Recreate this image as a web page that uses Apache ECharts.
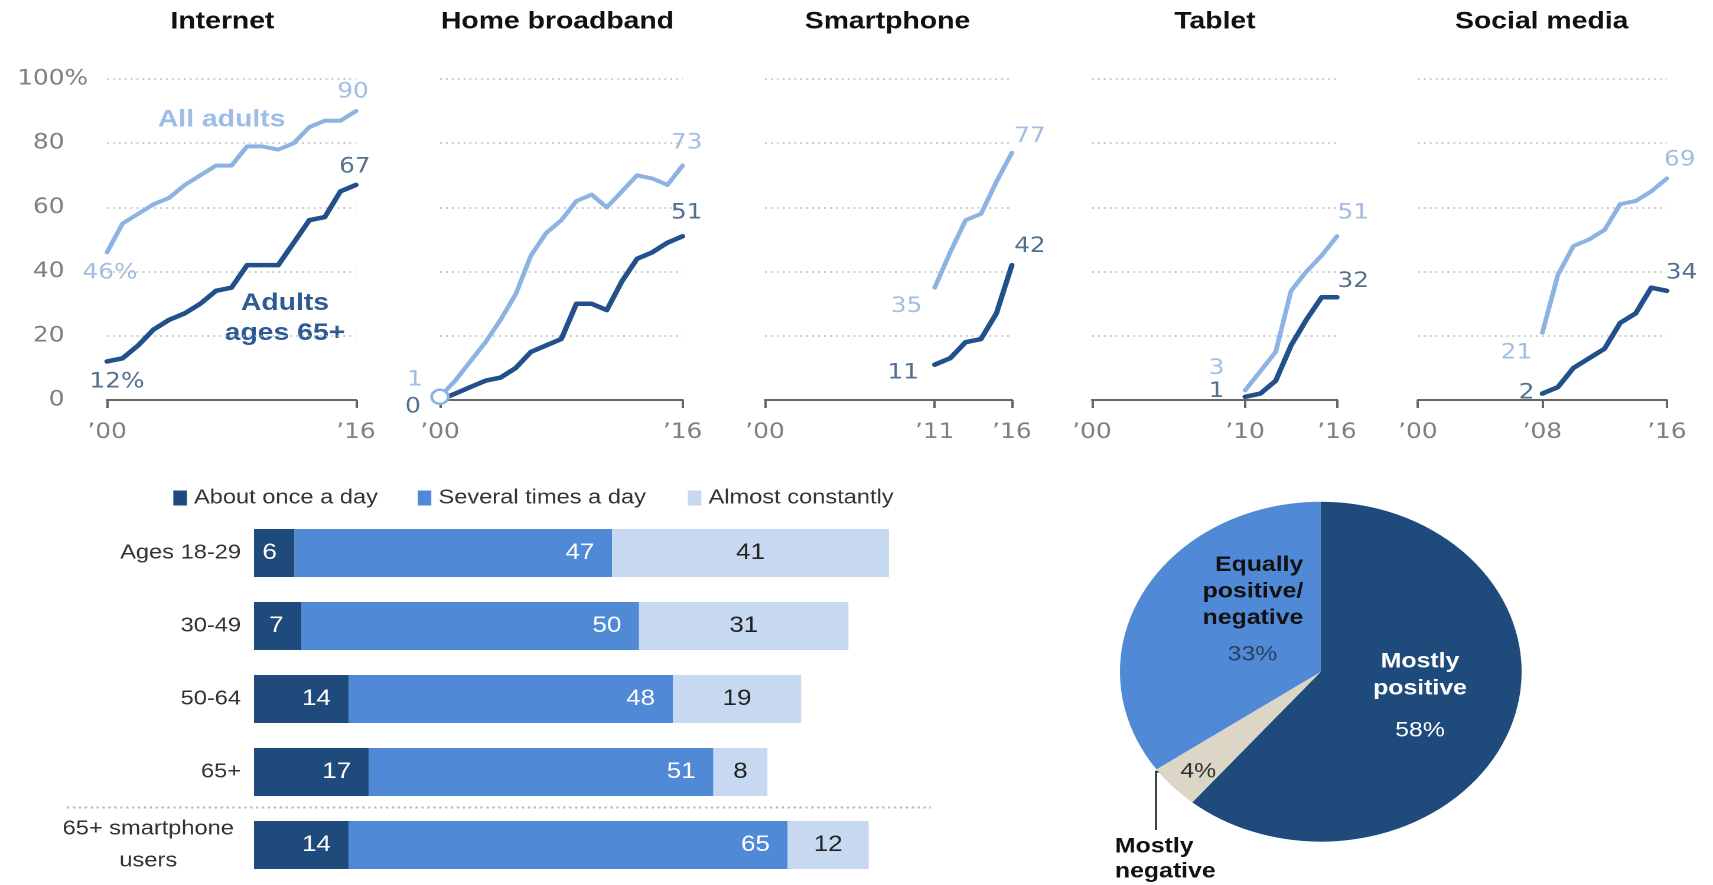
<!DOCTYPE html>
<html>
<head>
<meta charset="utf-8">
<title>Technology adoption and use among older adults</title>
<script src="https://cdn.jsdelivr.net/npm/echarts@6/dist/echarts.min.js"></script>
<style>
  html, body { margin: 0; padding: 0; background: #fff; overflow: hidden; }
  /* the whole figure is laid out on a 1450px-wide stage and widened to the window */
  #stage { position: absolute; left: 0; top: 0; width: 1450px; height: 885px;
           transform: scaleX(1.18138); transform-origin: 0 0; }
</style>
</head>
<body>
<div id="stage"></div>
<script>
// ---------- trend panels: % of U.S. adults, 2000-2016 ----------
const years = ['2000','2001','2002','2003','2004','2005','2006','2007','2008',
               '2009','2010','2011','2012','2013','2014','2015','2016'];
const panelTitles = ['Internet', 'Home broadband', 'Smartphone', 'Tablet', 'Social media'];
const panelTickYears = [
  ['2000', '2016'], ['2000', '2016'], ['2000', '2011', '2016'],
  ['2000', '2010', '2016'], ['2000', '2008', '2016']
];
const yTickValues = [0, 20, 40, 60, 80, 100];

const internetAll   = [46, 55, 58, 61, 63, 67, 70, 73, 73, 79, 79, 78, 80, 85, 87, 87, 90];
const internet65    = [12, 13, 17, 22, 25, 27, 30, 34, 35, 42, 42, 42, 49, 56, 57, 65, 67];
const broadbandAll  = [1, 6, 12, 18, 25, 33, 45, 52, 56, 62, 64, 60, 65, 70, 69, 67, 73];
const broadband65   = [0, 2, 4, 6, 7, 10, 15, 17, 19, 30, 30, 28, 37, 44, 46, 49, 51];
const smartphoneAll = [null, null, null, null, null, null, null, null, null, null, null, 35, 46, 56, 58, 68, 77];
const smartphone65  = [null, null, null, null, null, null, null, null, null, null, null, 11, 13, 18, 19, 27, 42];
const tabletAll     = [null, null, null, null, null, null, null, null, null, null, 3, 9, 15, 34, 40, 45, 51];
const tablet65      = [null, null, null, null, null, null, null, null, null, null, 1, 2, 6, 17, 25, 32, 32];
const socialAll     = [null, null, null, null, null, null, null, null, 21, 39, 48, 50, 53, 61, 62, 65, 69];
const social65      = [null, null, null, null, null, null, null, null, 2, 4, 10, 13, 16, 24, 27, 35, 34];

// ---------- how often smartphone owners go online ----------
const ageGroups = ['Ages 18-29', '30-49', '50-64', '65+', '65+ smartphone users'];
const onceADay        = [6, 7, 14, 17, 14];
const severalTimesDay = [47, 50, 48, 51, 65];
const almostConstant  = [41, 31, 19, 8, 12];
const frequencyNames  = ['About once a day', 'Several times a day', 'Almost constantly'];

// ---------- effect of online life on society ----------
const attitudeNames  = ['Mostly positive', 'Mostly negative', 'Equally positive/negative'];
const attitudeShares = [58, 4, 33];

// ---------- styling ----------
const LIGHT_LINE = '#8db3e2';
const DARK_LINE = '#21508b';
const LIGHT_TEXT = '#a4bee1';
const DARK_TEXT = '#56708f';
const AXIS_GRAY = '#666666';
const TICK_TEXT = '#808080';
const NAVY = '#1f4a7c';
const MID_BLUE = '#5089d5';
const PALE_BLUE = '#c6d9f0';
const BEIGE = '#dbd6c5';
const NUM_FONT = 'DejaVu Sans';
const TEXT_FONT = 'Liberation Sans';

const panelLeft  = [90.6, 372.4, 647.5, 924.3, 1200.2];
const panelWidth = [210.7, 205.4, 209.0, 207.4, 210.7];
const panelTitleX = [188.3, 471.9, 751.2, 1028.4, 1305.0];
const plotTop = 79, plotHeight = 321;

// label offsets from the first / last point of each line
const endLabelOffsets = [
  { allFirst: [2.5, 20.7],   oldFirst: [8.4, 20.5],   allLast: [-2.5, -19], oldLast: [-1, -18] },
  { allFirst: [-21.2, -16.8], oldFirst: [-22.8, 7],   allLast: [3.4, -22.4], oldLast: [3.4, -23] },
  { allFirst: [-23.8, 19],   oldFirst: [-26.7, 8.6],  allLast: [15.3, -16.1], oldLast: [15.3, -18.5] },
  { allFirst: [-24.1, -22],  oldFirst: [-24.1, -5.1], allLast: [13.8, -23], oldLast: [13.8, -15.6] },
  { allFirst: [-21.9, 20.7], oldFirst: [-13.4, -0.3], allLast: [11, -18.5], oldLast: [12.4, -17.6] }
];

const panelSeries = [
  [internetAll, internet65], [broadbandAll, broadband65], [smartphoneAll, smartphone65],
  [tabletAll, tablet65], [socialAll, social65]
];

function lineData(values, firstOff, lastOff, textColor, percentFirst, ringFirst, ringColor) {
  const first = values.findIndex(v => v !== null);
  const last = values.length - 1;
  return values.map((v, i) => {
    if (i !== first && i !== last) return v;
    const item = {
      value: v,
      label: {
        show: true, position: 'inside',
        offset: i === first ? firstOff : lastOff,
        color: textColor, fontFamily: NUM_FONT, fontSize: 21,
        formatter: (i === first && percentFirst) ? '{c}%' : '{c}'
      }
    };
    if (i === first && ringFirst) {
      item.symbolSize = 14;
      item.itemStyle = { color: '#ffffff', borderColor: ringColor, borderWidth: 2.5 };
    }
    return item;
  });
}

const grids = [], xAxes = [], yAxes = [], series = [];

panelTitles.forEach((title, p) => {
  grids.push({ left: panelLeft[p], top: plotTop, width: panelWidth[p], height: plotHeight });
  const ticks = panelTickYears[p];
  const showAt = (idx) => ticks.indexOf(years[idx]) !== -1;
  xAxes.push({
    type: 'category', gridIndex: p, data: years, boundaryGap: false,
    axisLine: { show: true, lineStyle: { color: AXIS_GRAY, width: 2 } },
    axisTick: { show: true, length: 8, interval: showAt, lineStyle: { color: AXIS_GRAY, width: 2 } },
    axisLabel: {
      interval: showAt, margin: 22, color: TICK_TEXT, fontFamily: NUM_FONT, fontSize: 21,
      formatter: (y) => '\u2019' + y.slice(2)
    },
    splitLine: { show: false }
  });
  yAxes.push({
    type: 'value', gridIndex: p, min: yTickValues[0], max: yTickValues[yTickValues.length - 1],
    interval: yTickValues[1] - yTickValues[0],
    axisLine: { show: false }, axisTick: { show: false },
    splitLine: { show: true, lineStyle: { color: '#bdbdbd', width: 1.6, type: [1.6, 3.4] } },
    axisLabel: p === 0 ? {
      show: true, margin: 16,
      formatter: (v) => v === 100 ? '{n|100%}' : '{n|' + v + '}{h|%}',
      rich: {
        n: { color: TICK_TEXT, fontFamily: NUM_FONT, fontSize: 21 },
        h: { color: 'rgba(0,0,0,0)', fontFamily: NUM_FONT, fontSize: 21 }
      }
    } : { show: false }
  });
  const off = endLabelOffsets[p];
  const [allVals, oldVals] = panelSeries[p];
  const common = {
    type: 'line', xAxisIndex: p, yAxisIndex: p, clip: false,
    symbol: 'circle', symbolSize: 2, showSymbol: true, showAllSymbol: true,
    connectNulls: false, emphasis: { disabled: true }, animation: false
  };
  series.push(Object.assign({}, common, {
    name: title + ' ages 65+',
    data: lineData(oldVals, off.oldFirst, off.oldLast, DARK_TEXT, p === 0, false),
    lineStyle: { color: DARK_LINE, width: 4.5, cap: 'round', join: 'round' },
    itemStyle: { color: DARK_LINE, borderWidth: 0 }
  }));
  series.push(Object.assign({}, common, {
    name: title + ' all adults',
    data: lineData(allVals, off.allFirst, off.allLast, LIGHT_TEXT, p === 0, p === 1, LIGHT_LINE),
    lineStyle: { color: LIGHT_LINE, width: 4, cap: 'round', join: 'round' },
    itemStyle: { color: LIGHT_LINE, borderWidth: 0 }
  }));
});

// ---------- stacked bars ----------
const BAR = 5;
grids.push({ left: 215, top: 516.5, width: 571.8, height: 365 });
xAxes.push({ type: 'value', gridIndex: BAR, min: 0, max: 100, show: false });
yAxes.push({
  type: 'category', gridIndex: BAR, data: ageGroups, inverse: true,
  axisLine: { show: false }, axisTick: { show: false }, splitLine: { show: false },
  axisLabel: {
    margin: 11, color: '#333333', fontFamily: TEXT_FONT, fontSize: 20,
    formatter: (v) => v === '65+ smartphone users'
      ? '{c|65+ smartphone}\n{c|users}' : v,
    rich: { c: { width: 157, align: 'center', lineHeight: 32, color: '#333333', fontFamily: TEXT_FONT, fontSize: 20 } }
  }
});
const barColors = [NAVY, MID_BLUE, PALE_BLUE];
const barValues = [onceADay, severalTimesDay, almostConstant];
frequencyNames.forEach((name, k) => {
  series.push({
    name, type: 'bar', stack: 'frequency', xAxisIndex: BAR, yAxisIndex: BAR,
    barWidth: 48, data: barValues[k], itemStyle: { color: barColors[k] },
    emphasis: { disabled: true }, animation: false,
    label: {
      show: true,
      position: k === 2 ? 'inside' : 'insideRight', distance: 15,
      color: k === 2 ? '#222222' : '#ffffff',
      fontFamily: TEXT_FONT, fontSize: 22
    }
  });
});

const legendLeft = [146.7, 353.6, 582.2];
const legends = frequencyNames.map((name, k) => ({
  data: [name], left: legendLeft[k], top: 488, padding: 0,
  icon: 'rect', itemWidth: 11.5, itemHeight: 15, itemGap: 0, selectedMode: false,
  textStyle: { color: '#333333', fontFamily: TEXT_FONT, fontSize: 20, padding: [0, 0, 0, 1] }
}));

// ---------- pie ----------
const pieColors = [NAVY, BEIGE, MID_BLUE];
const pieLabelAt = [[1202, 696], [1014.3, 771.7], [1060.2, 609.8]];
const pieLabels = [
  {
    formatter: (p) => '{b|Mostly}\n{b|positive}\n{s| }\n{v|' + p.value + '%}',
    rich: {
      b: { color: '#ffffff', fontWeight: 'bold', fontFamily: TEXT_FONT, fontSize: 21, lineHeight: 27 },
      s: { fontSize: 2, lineHeight: 15 },
      v: { color: '#ffffff', fontFamily: TEXT_FONT, fontSize: 21, lineHeight: 27 }
    }
  },
  { formatter: (p) => p.value + '%', color: '#333333', fontFamily: TEXT_FONT, fontSize: 21 },
  {
    formatter: (p) => '{b|Equally}\n{b|positive/}\n{b|negative}\n{s| }\n{v|' + p.value + '%}',
    rich: {
      b: { width: 86, align: 'right', color: '#111111', fontWeight: 'bold', fontFamily: TEXT_FONT, fontSize: 21, lineHeight: 26.5 },
      s: { fontSize: 2, lineHeight: 10 },
      v: { width: 86, align: 'center', color: '#2c3e5e', fontFamily: TEXT_FONT, fontSize: 21, lineHeight: 26.5 }
    }
  }
];
series.push({
  type: 'pie', center: [1118, 671.7], radius: 170, startAngle: 90, clockwise: true,
  animation: false, emphasis: { disabled: true },
  itemStyle: { borderWidth: 0 },
  labelLine: { show: false },
  label: { show: true, position: 'inside' },
  data: attitudeNames.map((n, i) => ({
    name: n, value: attitudeShares[i], itemStyle: { color: pieColors[i] },
    label: Object.assign({ show: true, position: 'inside' }, pieLabels[i])
  })),
  labelLayout: (params) => ({
    x: pieLabelAt[params.dataIndex][0], y: pieLabelAt[params.dataIndex][1],
    align: 'center', verticalAlign: 'middle'
  })
});

// ---------- titles, annotations, separators ----------
const graphics = panelTitles.map((t, p) => ({
  type: 'text', x: panelTitleX[p], y: 22,
  style: { text: t, align: 'center', verticalAlign: 'middle', fill: '#111111',
           font: 'bold 24px "' + TEXT_FONT + '"' }
}));
graphics.push({
  type: 'text', x: 187.6, y: 120,
  style: { text: 'All adults', align: 'center', verticalAlign: 'middle', fill: '#9ebde6',
           font: 'bold 24px "' + TEXT_FONT + '"' }
});
graphics.push({
  type: 'text', x: 241.2, y: 318.3,
  style: { text: 'Adults\nages 65+', align: 'center', verticalAlign: 'middle', fill: '#2b5a95',
           lineHeight: 30, font: 'bold 24px "' + TEXT_FONT + '"' }
});
graphics.push({
  type: 'line', shape: { x1: 56.7, y1: 807.5, x2: 788, y2: 807.5 },
  style: { stroke: '#b8b8b8', lineWidth: 2, lineDash: [2, 3] }
});
graphics.push({
  type: 'polyline', shape: { points: [[997, 771.7], [978.5, 771.7], [978.5, 830]] },
  style: { stroke: '#333333', lineWidth: 1.8, fill: null }
});
graphics.push({
  type: 'text', x: 943.8, y: 834.2,
  style: { text: 'Mostly\nnegative', align: 'left', verticalAlign: 'top', fill: '#111111',
           lineHeight: 25, font: 'bold 21px "' + TEXT_FONT + '"' }
});

const chart = echarts.init(document.getElementById('stage'), null,
  { renderer: 'canvas', devicePixelRatio: 2, width: 1450, height: 885 });
chart.setOption({
  backgroundColor: '#ffffff',
  animation: false,
  grid: grids, xAxis: xAxes, yAxis: yAxes,
  legend: legends,
  series: series,
  graphic: graphics
});
</script>
</body>
</html>
